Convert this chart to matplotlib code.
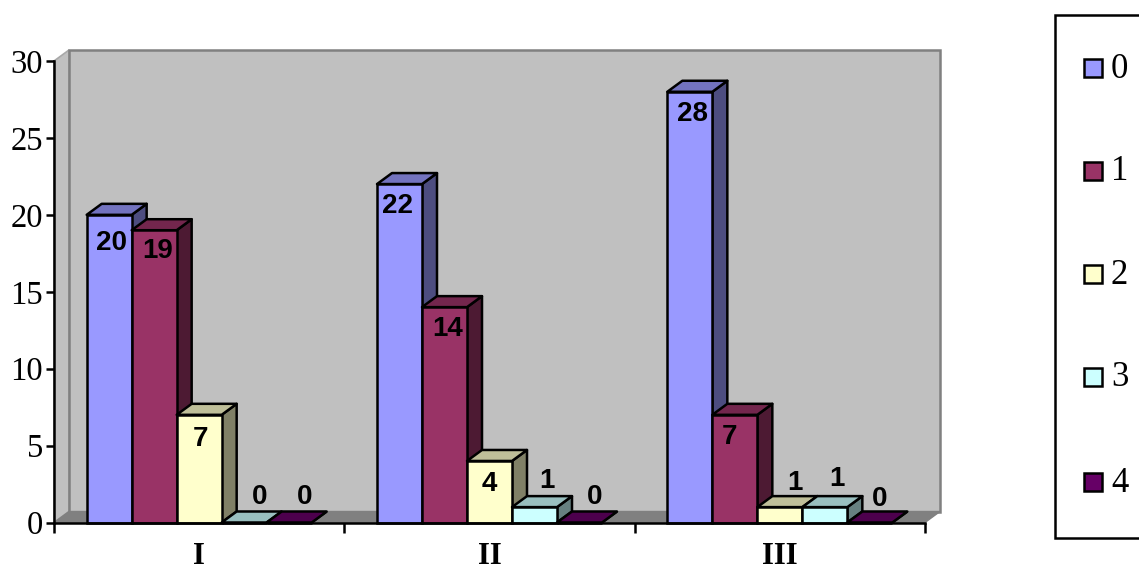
import matplotlib
matplotlib.use('Agg')
import matplotlib.pyplot as plt
import numpy as np
from matplotlib.patches import Polygon, Rectangle

# Data
groups = ['I', 'II', 'III']
series_names = ['0', '1', '2', '3', '4']
values_0 = [20, 22, 28]
values_1 = [19, 14, 7]
values_2 = [7, 4, 1]
values_3 = [0, 1, 1]
values_4 = [0, 0, 0]
all_values = [values_0, values_1, values_2, values_3, values_4]

# front, top and side shade of every series
front_colors = ['#9999FF', '#993366', '#FFFFCC', '#CCFFFF', '#660066']
top_colors = ['#7373BF', '#73264D', '#BFBF99', '#99BFBF', '#4D004D']
side_colors = ['#4D4D80', '#4D1A33', '#808066', '#668080', '#330033']

# label offsets in pixels from the top centre of the bar, series by series
label_dx = [[2, -2, 3], [3, 3, -5], [1, 0, 15], [15, 12, 12], [15, 15, 10]]
label_dy = [[-28, -22, -22], [-21, -22, -22], [-24, -23, 24], [26, 26, 28], [26, 26, 23]]

W, H = 1139, 567
fig = plt.figure(figsize=(W / 100, H / 100), dpi=100)
ax = fig.add_axes([54 / W, (H - 522.5) / H, 871 / W, 461.5 / H])
ax.set_xlim(0, 3)
ax.set_ylim(0, 30)

# depth of the fake 3D effect, in data units
dx = 15 / (871 / 3)
dy = 11 / (461.5 / 30)
bar_w = 0.155
start = 0.1125

# walls and floor
ax.add_patch(Polygon([(0, 0), (dx, dy), (dx, 30 + dy), (0, 30)], fc='#C0C0C0', ec='#A8A8A8',
                     lw=1.2, clip_on=False, zorder=1))
ax.add_patch(Rectangle((dx, dy), 3, 30, fc='#C0C0C0', ec='#808080', lw=1.8, clip_on=False, zorder=1))
ax.add_patch(Polygon([(0, 0), (3, 0), (3 + dx, dy), (dx, dy)], fc='#808080', ec='#808080',
                     lw=1, clip_on=False, zorder=1.5))

z = 3
for g in range(3):
    for s in range(5):
        v = all_values[s][g]
        x0 = g + start + s * bar_w
        x1 = x0 + bar_w
        # side first, then the top, then the front face
        ax.add_patch(Polygon([(x1, 0), (x1 + dx, dy), (x1 + dx, v + dy), (x1, v)],
                             fc=side_colors[s], ec='black', lw=1.8, joinstyle='round',
                             clip_on=False, zorder=z))
        ax.add_patch(Polygon([(x0, v), (x1, v), (x1 + dx, v + dy), (x0 + dx, v + dy)],
                             fc=top_colors[s], ec='black', lw=1.8, joinstyle='round',
                             clip_on=False, zorder=z))
        ax.bar(x0, v, bar_w, align='edge', color=front_colors[s], edgecolor='black',
               linewidth=1.8, clip_on=False, zorder=z + 0.5)
        z += 1

# value labels stay above all bars
for g in range(3):
    for s in range(5):
        v = all_values[s][g]
        ax.annotate(str(v), (g + start + (s + 0.5) * bar_w, v),
                    xytext=(label_dx[s][g], label_dy[s][g]), textcoords='offset pixels',
                    ha='center', va='center', family='Liberation Sans', weight='bold',
                    fontsize=20, color='black', zorder=50, annotation_clip=False)

# axes
for name in ['top', 'right']:
    ax.spines[name].set_visible(False)
for name in ['left', 'bottom']:
    ax.spines[name].set_linewidth(1.8)
    ax.spines[name].set_zorder(40)

ax.set_yticks(np.arange(0, 31, 5))
ax.tick_params(axis='y', length=6, width=1.8, pad=2, labelsize=23.5)
ax.set_xticks(np.arange(0, 4))
ax.set_xticklabels([])
ax.tick_params(axis='x', length=7, width=1.8)
ax.set_xticks(np.arange(3) + 0.5, minor=True)
ax.set_xticklabels(groups, minor=True, family='Liberation Serif', weight='bold', fontsize=22)
ax.tick_params(axis='x', which='minor', length=0, pad=14)
for lab in ax.get_yticklabels():
    lab.set_family('Liberation Serif')
ax.patch.set_visible(False)

# legend box runs off the right edge
fig.add_artist(Rectangle((1055 / W, (H - 538) / H), 100 / W, 523 / H, fc='white', ec='black',
                         lw=1.8, transform=fig.transFigure))
legend_ys = [68, 171, 274, 377, 482]
for s, name in enumerate(series_names):
    y = legend_ys[s]
    fig.add_artist(Rectangle((1084 / W, (H - y - 9) / H), 18 / W, 18 / H, fc=front_colors[s],
                             ec='black', lw=1.8, transform=fig.transFigure))
    fig.text(1111 / W, (H - y - 1) / H, name, family='Liberation Serif', fontsize=25,
             ha='left', va='center')

fig.savefig('out.png', dpi=100)
